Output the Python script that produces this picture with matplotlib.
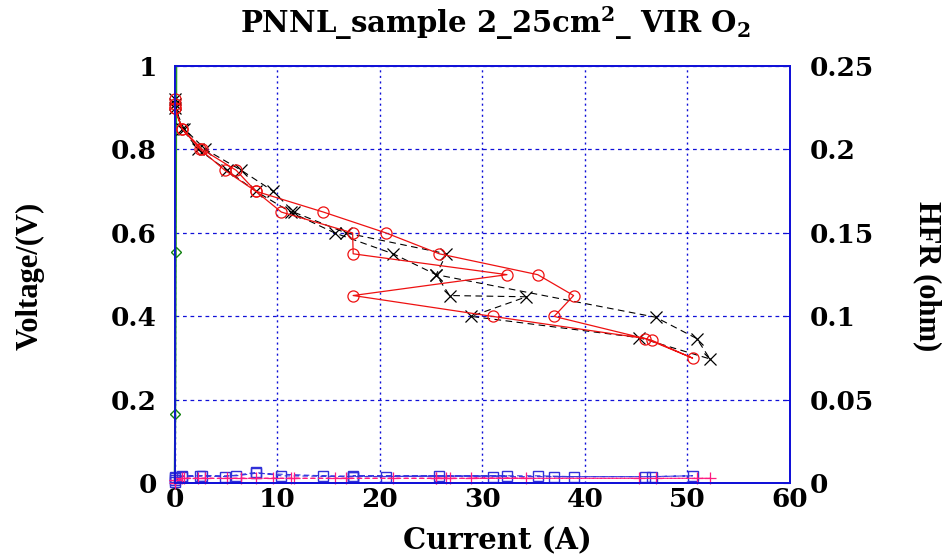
import matplotlib
matplotlib.use('Agg')
import matplotlib.pyplot as plt

# polarization scan, red circles (forward then back)
red_current = [0.0, 0.0, 0.0, 0.7, 2.5, 4.9, 7.9, 10.4, 17.35, 17.4, 32.4, 17.4, 31.0, 45.9, 50.5,
               46.5, 37.0, 38.9, 35.4, 25.8, 20.6, 14.5, 7.9, 6.0, 2.7, 0.7, 0.0]
red_voltage = [0.92, 0.91, 0.90, 0.85, 0.80, 0.75, 0.70, 0.65, 0.60, 0.55, 0.50, 0.45, 0.40, 0.347, 0.30,
               0.343, 0.40, 0.45, 0.50, 0.55, 0.60, 0.65, 0.70, 0.75, 0.80, 0.85, 0.90]
red_hfr = [0.001, 0.003, 0.004, 0.0045, 0.0045, 0.004, 0.0065, 0.0045, 0.004, 0.004, 0.0045, 0.0045, 0.004,
           0.004, 0.0045, 0.004, 0.004, 0.004, 0.0045, 0.0045, 0.004, 0.0045, 0.006, 0.0045, 0.0045, 0.004, 0.002]

# second scan, black crosses
black_current = [0.0, 0.0, 0.7, 2.3, 5.1, 7.9, 11.3, 15.6, 21.3, 25.5, 26.8, 34.3, 28.9, 45.3, 52.2,
                 50.9, 46.9, 25.5, 26.5, 16.7, 11.6, 9.6, 6.5, 3.0, 0.9, 0.0]
black_voltage = [0.92, 0.91, 0.85, 0.80, 0.75, 0.70, 0.65, 0.60, 0.55, 0.50, 0.45, 0.447, 0.40, 0.349, 0.298,
                 0.347, 0.398, 0.50, 0.55, 0.60, 0.65, 0.70, 0.75, 0.80, 0.85, 0.90]
black_hfr = [0.0, 0.002, 0.003, 0.003, 0.003, 0.003, 0.003, 0.003, 0.003, 0.003, 0.003, 0.003, 0.003,
             0.003, 0.003, 0.003, 0.003, 0.003, 0.003, 0.003, 0.003, 0.003, 0.003, 0.003, 0.003, 0.002]

# OCV trace
green_current = [0.15, 0.1, 0.05, 0.0]
green_voltage = [1.0, 0.555, 0.166, 0.0]

x_ticks = [0, 10, 20, 30, 40, 50, 60]
v_ticks = [0, 0.2, 0.4, 0.6, 0.8, 1]
v_labels = ['0', '0.2', '0.4', '0.6', '0.8', '1']
hfr_ticks = [0, 0.05, 0.1, 0.15, 0.2, 0.25]
hfr_labels = ['0', '0.05', '0.1', '0.15', '0.2', '0.25']

plt.rcParams['font.family'] = 'DejaVu Serif'
plt.rcParams['font.weight'] = 'bold'
plt.rcParams['mathtext.fontset'] = 'custom'
plt.rcParams['mathtext.rm'] = 'DejaVu Serif:bold'
plt.rcParams['mathtext.bf'] = 'DejaVu Serif:bold'
plt.rcParams['mathtext.default'] = 'bf'

blue = '#1010d8'

fig = plt.figure(figsize=(9.47, 5.59), dpi=100)
ax = fig.add_axes([0.1845, 0.1354, 0.6497, 0.7465])
ax2 = ax.twinx()

ax.plot(green_current, green_voltage, color='#2a9a2a', lw=1.5, marker='D', markevery=[1, 2],
        markersize=5, markerfacecolor='none', markeredgecolor='#108010', clip_on=False, zorder=3)
ax.plot(black_current, black_voltage, color='black', lw=0.8, ls=(0, (6, 4)), marker='x',
        markersize=9, markeredgewidth=0.9, clip_on=False, zorder=4)
ax.plot(red_current, red_voltage, color='#ee1111', lw=0.9, marker='o', markersize=8,
        markerfacecolor='none', markeredgecolor='#ee1111', markeredgewidth=0.9, clip_on=False, zorder=5)

ax2.plot(red_current, red_hfr, color='#3a3ae0', lw=0.8, ls=(0, (5, 3)), marker='s', markersize=7,
         markerfacecolor='none', markeredgecolor='#3030d8', markeredgewidth=1.0, clip_on=False)
ax2.plot(black_current, black_hfr, color='#ff1a80', lw=0.8, ls=(0, (4, 3)), marker='+', markersize=9,
         markeredgewidth=0.9, clip_on=False)

ax.set_xlim(0, 60)
ax.set_ylim(0, 1)
ax2.set_ylim(0, 0.25)

ax.set_xticks(x_ticks)
ax.set_xticklabels([str(t) for t in x_ticks])
ax.set_yticks(v_ticks)
ax.set_yticklabels(v_labels)
ax2.set_yticks(hfr_ticks)
ax2.set_yticklabels(hfr_labels)

for a in (ax, ax2):
    for s in a.spines.values():
        s.set_color(blue)
        s.set_linewidth(1.3)

ax.grid(True, axis='x', color=blue, ls=(0, (1.5, 2.5)), lw=1.0)
ax.grid(True, axis='y', color=blue, ls=(0, (3, 3)), lw=0.9)

ax.tick_params(axis='x', direction='in', length=0, pad=3, labelsize=19)
ax.tick_params(axis='y', direction='in', length=0, pad=13, labelsize=19)
ax2.tick_params(axis='y', direction='in', length=5, color=blue, pad=14, labelsize=19)

fig.text(0.523, 0.958, 'PNNL_sample 2_25cm$^2$_ VIR O$_2$', ha='center', va='center', fontsize=21,
         fontweight='bold')
fig.text(0.525, 0.033, 'Current (A)', ha='center', va='center', fontsize=21, fontweight='bold')
fig.text(0.032, 0.506, 'Voltage/(V)', ha='center', va='center', rotation=90, fontsize=22,
         fontweight='bold', family='Liberation Serif')
fig.text(0.979, 0.506, 'HFR (ohm)', ha='center', va='center', rotation=-90, fontsize=22,
         fontweight='bold', family='Liberation Serif')

fig.savefig('out.png', dpi=100)
